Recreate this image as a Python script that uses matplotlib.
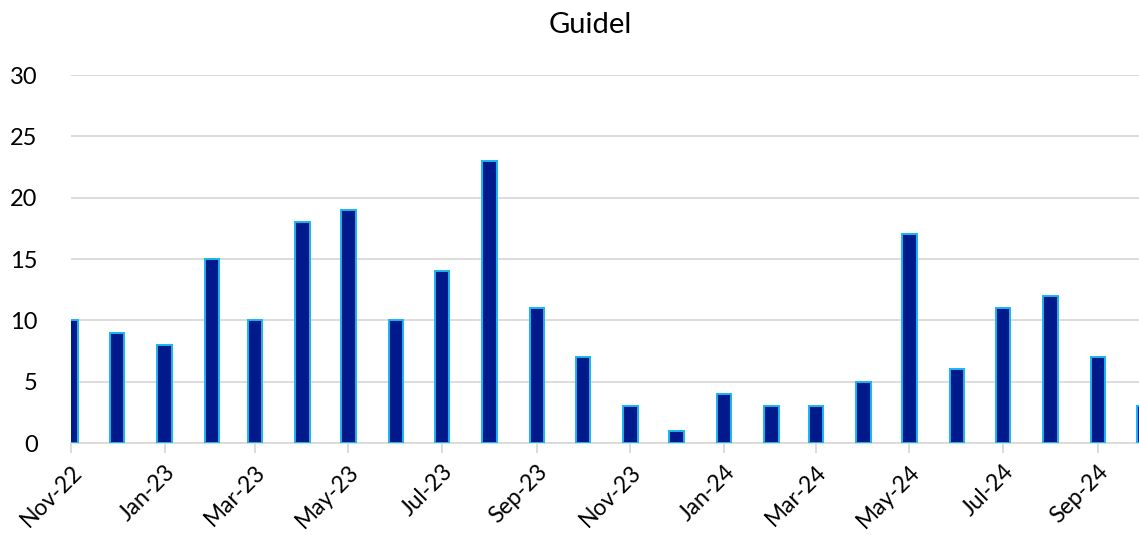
import matplotlib
matplotlib.use('Agg')
import matplotlib.pyplot as plt
import matplotlib.dates as mdates
import pandas as pd

plt.rcParams['font.family'] = ['Lato', 'DejaVu Sans']

title = 'Guidel'
months = pd.date_range('2022-11-01', '2024-10-01', freq='MS')
counts = [10, 9, 8, 15, 10, 18, 19, 10, 14, 23, 11, 7,
          3, 1, 4, 3, 3, 5, 17, 6, 11, 12, 7, 3]
tick_months = pd.date_range('2022-11-01', '2024-09-01', freq='2MS')

fig = plt.figure(figsize=(11.39, 5.35), dpi=100)
# axes deliberately runs a little past the right edge, like the source crop
ax = fig.add_axes([71 / 1139, 1 - 443 / 535, (1144 - 71) / 1139, (443 - 75) / 535])

ax.bar(months, counts, width=9.5, color='#001A8C', edgecolor='#19B5F0', linewidth=1.4, zorder=3)

ax.set_xlim(months[0], months[-1])
ax.set_ylim(0, 30)
ax.set_yticks(range(0, 31, 5))
ax.yaxis.grid(True, color='#D9D9D9', linewidth=1.3, zorder=0)

ax.set_xticks(tick_months)
ax.xaxis.set_major_formatter(mdates.DateFormatter('%b-%y'))
for lab in ax.get_xticklabels():
    lab.set_rotation(45)
    lab.set_ha('right')
    lab.set_rotation_mode('anchor')

ax.tick_params(axis='x', length=7, width=1.3, color='#D9D9D9', labelsize=16.5, pad=6)
ax.tick_params(axis='y', length=0, labelsize=17, pad=24)

for s in ['left', 'right', 'top']:
    ax.spines[s].set_visible(False)
ax.spines['bottom'].set_color('#D9D9D9')
ax.spines['bottom'].set_linewidth(1.3)

fig.text(590 / 1139, 1 - 25 / 535, title, ha='center', va='center', fontsize=21)

fig.savefig('out.png', dpi=100)
